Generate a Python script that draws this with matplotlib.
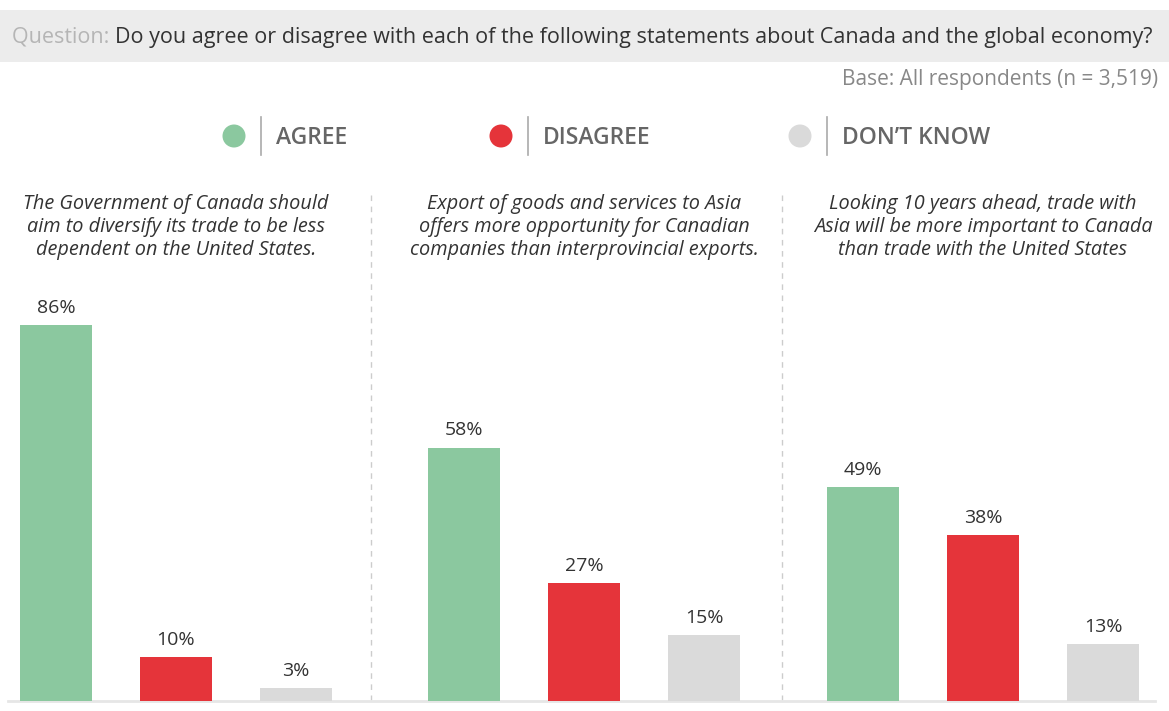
import matplotlib.pyplot as plt
from matplotlib.patches import Rectangle, Ellipse
import numpy as np

plt.rcParams['font.family'] = ['Open Sans', 'DejaVu Sans']

# data
statements = [
    "The Government of Canada should\naim to diversify its trade to be less\ndependent on the United States.",
    "Export of goods and services to Asia\noffers more opportunity for Canadian\ncompanies than interprovincial exports.",
    "Looking 10 years ahead, trade with\nAsia will be more important to Canada\nthan trade with the United States",
]
responses = ["AGREE", "DISAGREE", "DON\u2019T KNOW"]
agree = [86, 58, 49]
disagree = [10, 27, 38]
dont_know = [3, 15, 13]
colors = ["#8bc89f", "#e5343a", "#dadada"]

question = "Do you agree or disagree with each of the following statements about Canada and the global economy?"
base_note = "Base: All respondents (n = 3,519)"

W, H = 1169, 711
fig = plt.figure(figsize=(W / 100, H / 100), dpi=100)

# overlay axes in pixel coords (y down) for header, legend, text
ov = fig.add_axes([0, 0, 1, 1])
ov.set_xlim(0, W)
ov.set_ylim(H, 0)
ov.axis("off")

ov.add_patch(Rectangle((0, 10), W, 52, color="#ececec", lw=0))
t = ov.text(12, 37, "Question: ", fontsize=15.5, color="#b5b5b5", va="center")
fig.canvas.draw()
bb = t.get_window_extent()
ov.text(bb.x1, 37, question, fontsize=15.5, color="#333333", va="center")
ov.text(1158, 80, base_note, fontsize=15, color="#888888", va="center", ha="right")

# legend
leg_x = [234, 501, 800]
for lx, lab, c in zip(leg_x, responses, colors):
    ov.add_patch(Ellipse((lx, 136), 23, 23, color=c, lw=0))
    ov.plot([lx + 27, lx + 27], [117, 155], color="#aaaaaa", lw=1.2)
    ov.text(lx + 42, 138, lab, fontsize=16.5, color="#666666", va="center",
            fontweight="semibold")

# bars
ax = fig.add_axes([0, 10 / H, 1, 437 / H])
ax.set_xlim(0, W)
ax.set_ylim(0, 100)
ax.axis("off")

group_centers = np.array([176, 584, 983])
offsets = np.array([-120, 0, 120])
width = 72
series = [agree, disagree, dont_know]
for i, vals in enumerate(series):
    xs = group_centers + offsets[i]
    ax.bar(xs, vals, width=width, color=colors[i], lw=0)
    for x, v in zip(xs, vals):
        ax.annotate(f"{v}%", (x, v), xytext=(0, 6), textcoords="offset points",
                    ha="center", va="bottom", fontsize=14, color="#333333")

# statements, dividers, baseline
for gx, s in zip(group_centers, statements):
    ov.text(gx, 227, s, fontsize=14.3, style="italic", color="#333333",
            ha="center", va="center", linespacing=1.22)
for dx in [371, 782]:
    ov.plot([dx, dx], [195, 700], color="#cccccc", lw=1, ls=(0, (4, 4)))
ov.plot([8, 1155], [701, 701], color="#e6e6e6", lw=2)

plt.savefig("out.png", dpi=100)
